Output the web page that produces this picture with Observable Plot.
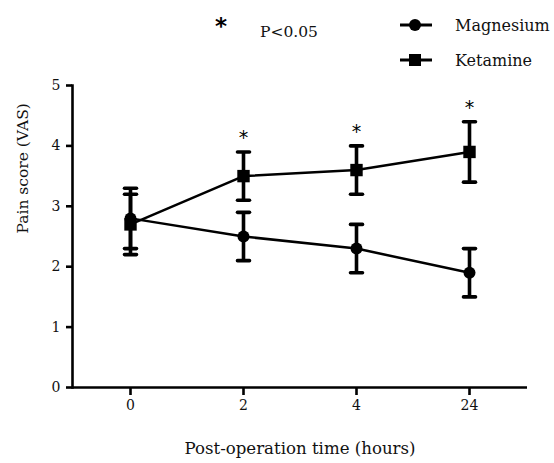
<!DOCTYPE html>
<html><head><meta charset="utf-8">
<script src="https://cdn.jsdelivr.net/npm/d3@7"></script>
<script src="https://cdn.jsdelivr.net/npm/@observablehq/plot@0.6"></script>
<style>
html,body{margin:0;padding:0;background:#fff;}
#wrap{position:relative;width:554px;height:463px;overflow:hidden;}
#legend{position:absolute;left:0;top:0;pointer-events:none;}
</style></head><body><div id="wrap"></div>
<script>
const times = ["0", "2", "4", "24"];
const magnesiumMean = [2.8, 2.5, 2.3, 1.9];
const magnesiumLow  = [2.3, 2.1, 1.9, 1.5];
const magnesiumHigh = [3.3, 2.9, 2.7, 2.3];
const ketamineMean = [2.7, 3.5, 3.6, 3.9];
const ketamineLow  = [2.2, 3.1, 3.2, 3.4];
const ketamineHigh = [3.2, 3.9, 4.0, 4.4];
const significant = ["2", "4", "24"];
const yTicks = [0, 1, 2, 3, 4, 5];
const seriesNames = ["Magnesium", "Ketamine"];
const xTitle = "Post-operation time (hours)";
const yTitle = "Pain score (VAS)";
const sigLabel = "P<0.05";

const rows = [];
times.forEach((t, i) => {
  rows.push({time: t, group: seriesNames[0], mean: magnesiumMean[i], low: magnesiumLow[i], high: magnesiumHigh[i], symbol: "circle"});
  rows.push({time: t, group: seriesNames[1], mean: ketamineMean[i], low: ketamineLow[i], high: ketamineHigh[i], symbol: "square"});
});
const stars = significant.map(t => ({time: t, high: ketamineHigh[times.indexOf(t)]}));

const capSymbol = {draw(ctx, size) { const w = Math.sqrt(size / Math.PI); ctx.moveTo(-w, 0); ctx.lineTo(w, 0); }};
const serif = "DejaVu Serif";

const chart = Plot.plot({
  width: 554,
  height: 463,
  marginLeft: 72,
  marginRight: 27,
  marginTop: 85,
  marginBottom: 76,
  style: {fontFamily: serif, color: "#111", background: "#fff"},
  x: {type: "point", domain: times, padding: 0.513},
  y: {domain: [0, 5]},
  marks: [
    Plot.frame({anchor: "left", stroke: "#000", strokeWidth: 2.6}),
    Plot.ruleY([0], {stroke: "#000", strokeWidth: 2.6}),
    Plot.axisY(yTicks, {tickSize: 6, tickPadding: 6, strokeWidth: 2.6, stroke: "#000", fontSize: 14, tickFormat: d3.format("d"), label: null}),
    Plot.axisX({tickSize: 8, tickPadding: 5, strokeWidth: 2.6, stroke: "#000", fontSize: 14, label: null}),
    Plot.text([xTitle], {frameAnchor: "bottom", lineAnchor: "top", dy: 55, fontSize: 16.6, fill: "#111"}),
    Plot.text([yTitle], {frameAnchor: "left", rotate: -90, lineAnchor: "middle", dx: -49, dy: -3, fontSize: 15.5, fill: "#111"}),
    Plot.line(rows, {x: "time", y: "mean", z: "group", stroke: "#000", strokeWidth: 2.5}),
    Plot.ruleX(rows, {x: "time", y1: "low", y2: "high", stroke: "#000", strokeWidth: 3.6}),
    Plot.dot(rows, {x: "time", y: "low", symbol: capSymbol, r: 6, stroke: "#000", strokeWidth: 3.6, strokeLinecap: "round"}),
    Plot.dot(rows, {x: "time", y: "high", symbol: capSymbol, r: 6, stroke: "#000", strokeWidth: 3.6, strokeLinecap: "round"}),
    Plot.dot(rows.filter(d => d.symbol === "circle"), {x: "time", y: "mean", symbol: "circle", r: 6, fill: "#000", stroke: "none"}),
    Plot.dot(rows.filter(d => d.symbol === "square"), {x: "time", y: "mean", symbol: "square", r: 7, fill: "#000", stroke: "none"}),
    Plot.text(stars, {x: "time", y: "high", text: () => "*", dy: -14, fontSize: 19, fontFamily: "DejaVu Sans", fill: "#000"})
  ]
});
const wrap = document.getElementById("wrap");
wrap.appendChild(chart);

// legend overlay
const ns = "http://www.w3.org/2000/svg";
const lg = document.createElementNS(ns, "svg");
lg.setAttribute("id", "legend");
lg.setAttribute("width", 554);
lg.setAttribute("height", 80);
lg.innerHTML = `
  <text x="221" y="34" text-anchor="middle" font-family="DejaVu Sans" font-weight="bold" font-size="23" fill="#000">*</text>
  <text x="260" y="37" font-family="${serif}" font-size="15.5" fill="#111">${sigLabel.replace("<","&lt;")}</text>
  <line x1="400" x2="432" y1="25" y2="25" stroke="#000" stroke-width="3"/>
  <circle cx="415" cy="25" r="6" fill="#000"/>
  <text x="455" y="31" font-family="${serif}" font-size="16" fill="#111">${seriesNames[0]}</text>
  <line x1="400" x2="432" y1="60" y2="60" stroke="#000" stroke-width="3"/>
  <rect x="409" y="54" width="12" height="12" fill="#000"/>
  <text x="455" y="66" font-family="${serif}" font-size="16" fill="#111">${seriesNames[1]}</text>
`;
wrap.appendChild(lg);
</script>
</body></html>
